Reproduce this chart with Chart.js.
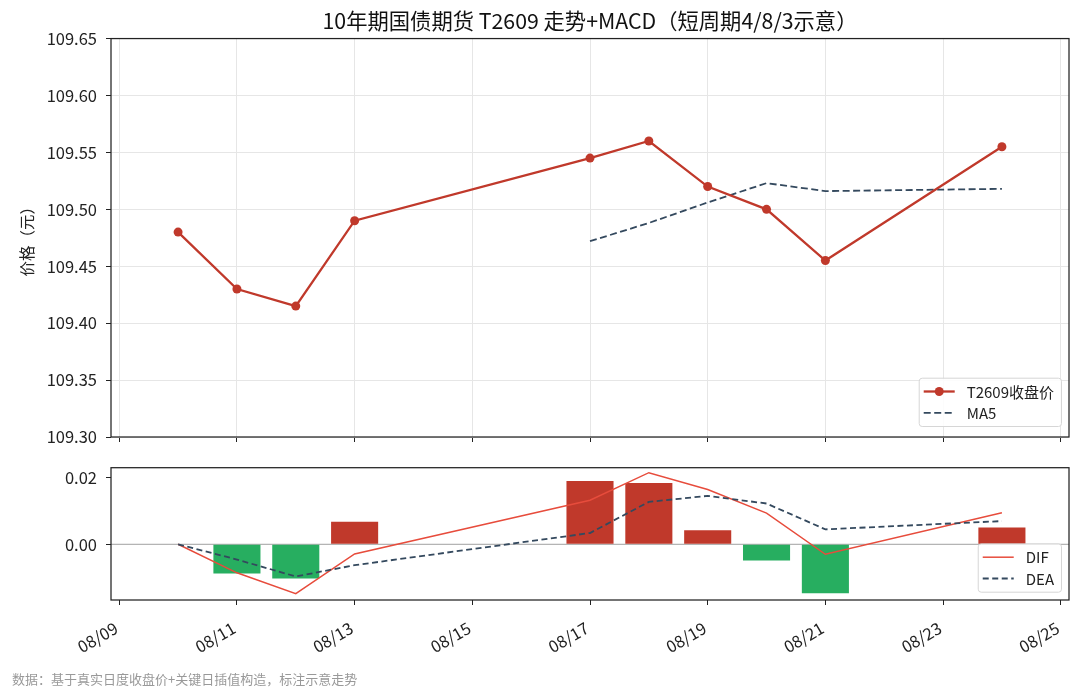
<!DOCTYPE html>
<html>
<head>
<meta charset="utf-8">
<script src="https://cdn.jsdelivr.net/npm/chart.js@4.4.1/dist/chart.umd.min.js"></script>
<style>
  html, body { margin: 0; padding: 0; background: #fff; }
  #wrap { position: relative; width: 1080px; height: 698px; overflow: hidden; }
  canvas { position: absolute; left: 0; }
  #priceChart { top: 0; }
  #macdChart { top: 450px; }
  #note {
    position: absolute; left: 12px; top: 671px;
    font-family: "Noto Sans CJK SC", sans-serif; font-size: 13px; line-height: 16px;
    color: #999; white-space: nowrap;
  }
</style>
</head>
<body>
<div id="wrap">
  <canvas id="priceChart" width="1080" height="450"></canvas>
  <canvas id="macdChart" width="1080" height="248"></canvas>
  <div id="note">数据：基于真实日度收盘价+关键日插值构造，标注示意走势</div>
</div>
<script>
const FONT = '"Noto Sans CJK SC", "Noto Sans", sans-serif';

// trading days in August
const days = [10, 11, 12, 13, 17, 18, 19, 20, 21, 24];
const closePrice = [109.48, 109.43, 109.415, 109.49, 109.545, 109.56, 109.52, 109.50, 109.455, 109.555];
const ma5 = [null, null, null, null, 109.472, 109.488, 109.506, 109.523, 109.516, 109.518];
const dif = [0, -0.0086, -0.0149, -0.0029, 0.0133, 0.0216, 0.0165, 0.0094, -0.0030, 0.0095];
const dea = [0, -0.0046, -0.0097, -0.0063, 0.0034, 0.0128, 0.0146, 0.0123, 0.0045, 0.0070];
const macdHist = [0, -0.0088, -0.0103, 0.0068, 0.0191, 0.0185, 0.0042, -0.0049, -0.0148, 0.0051];

const dateTicks = [9, 11, 13, 15, 17, 19, 21, 23, 25];
const dateLabels = ['08/09', '08/11', '08/13', '08/15', '08/17', '08/19', '08/21', '08/23', '08/25'];
const priceTicks = [109.30, 109.35, 109.40, 109.45, 109.50, 109.55, 109.60, 109.65];
const macdTicks = [0.00, 0.02];

const pts = (vals) => days.map((d, i) => ({ x: d, y: vals[i] }));

// keep the plot box where it is, whatever the tick labels want
const fixY = (s) => { s.width = 111; s.paddingTop = 0; s.paddingBottom = 0; };
const fixX = (h) => (s) => { s.height = h; s.paddingLeft = 0; s.paddingRight = 0; };

// matplotlib style box around the axes + legend drawn inside the plot
const frameAndLegend = {
  id: 'frameAndLegend',
  beforeDatasetsDraw(chart, args, opts) {
    if (!opts.zeroLine) return;
    const { ctx, chartArea: a } = chart;
    const y0 = chart.scales.y.getPixelForValue(0);
    ctx.save();
    ctx.strokeStyle = '#a0a0a0';
    ctx.lineWidth = 1;
    ctx.beginPath();
    ctx.moveTo(a.left, y0);
    ctx.lineTo(a.right, y0);
    ctx.stroke();
    ctx.restore();
  },
  afterDatasetsDraw(chart, args, opts) {
    const { ctx, chartArea: a } = chart;
    ctx.save();
    ctx.strokeStyle = '#222';
    ctx.lineWidth = 1.25;
    ctx.strokeRect(a.left, a.top, a.right - a.left, a.bottom - a.top);

    const items = chart.data.datasets.filter(d => d.type !== 'bar');
    ctx.font = '15px ' + FONT;
    const textW = Math.max(...items.map(d => ctx.measureText(d.label).width));
    const rowH = 21.3;
    const w = 5 + 31 + 12 + textW + 7;
    const h = 27 + rowH * (items.length - 1);
    const right = a.right - opts.right;
    const bottom = a.bottom - opts.bottom;
    const left = right - w;
    const top = bottom - h;

    ctx.beginPath();
    ctx.roundRect(left + 0.5, top + 0.5, w, h, 3);
    ctx.fillStyle = 'rgba(255,255,255,0.85)';
    ctx.fill();
    ctx.strokeStyle = '#d6d6d6';
    ctx.lineWidth = 1;
    ctx.stroke();

    items.forEach((d, i) => {
      const y = top + 13.8 + i * rowH;
      ctx.strokeStyle = d.borderColor;
      ctx.lineWidth = d.borderWidth;
      ctx.setLineDash(d.borderDash || []);
      ctx.beginPath();
      ctx.moveTo(left + 5, y);
      ctx.lineTo(left + 36, y);
      ctx.stroke();
      ctx.setLineDash([]);
      if (d.pointRadius) {
        ctx.fillStyle = d.pointBackgroundColor;
        ctx.beginPath();
        ctx.arc(left + 20.5, y, d.pointRadius, 0, Math.PI * 2);
        ctx.fill();
      }
      ctx.fillStyle = '#222';
      ctx.textBaseline = 'middle';
      ctx.textAlign = 'left';
      ctx.fillText(d.label, left + 48, y + 0.5);
    });
    ctx.restore();
  }
};

const tickFont = { family: FONT, size: 16.5 };

new Chart(document.getElementById('priceChart'), {
  type: 'line',
  data: {
    datasets: [
      {
        label: 'T2609收盘价',
        data: pts(closePrice),
        borderColor: '#c0392b',
        borderWidth: 2.3,
        pointRadius: 4.5,
        pointBackgroundColor: '#c0392b',
        pointBorderWidth: 0,
        tension: 0,
        order: 0
      },
      {
        label: 'MA5',
        data: pts(ma5),
        borderColor: '#34495e',
        borderWidth: 1.8,
        borderDash: [7, 3.5],
        pointRadius: 0,
        tension: 0,
        order: 1
      }
    ]
  },
  options: {
    responsive: false,
    animation: false,
    layout: { padding: { left: 0, right: 11, top: 0, bottom: 0 } },
    plugins: {
      legend: { display: false },
      tooltip: { enabled: false },
      title: {
        display: true,
        fullSize: false,
        text: '10年期国债期货 T2609 走势+MACD（短周期4/8/3示意）',
        color: '#111',
        font: { family: FONT, size: 21.3, weight: 'normal' },
        padding: { top: 8, bottom: 5 }
      },
      frameAndLegend: { right: 8, bottom: 11 }
    },
    scales: {
      x: {
        type: 'linear',
        min: 8.86,
        max: 25.14,
        offset: false,
        afterBuildTicks: (s) => { s.ticks = dateTicks.map(v => ({ value: v })); },
        afterFit: fixX(13),
        ticks: { display: false },
        grid: { color: '#e6e6e6', tickColor: '#222', tickLength: 5, lineWidth: 1, offset: false },
        border: { display: false }
      },
      y: {
        min: 109.30,
        max: 109.65,
        afterBuildTicks: (s) => { s.ticks = priceTicks.map(v => ({ value: v })); },
        afterFit: fixY,
        ticks: { callback: (v) => v.toFixed(2), font: tickFont, color: '#222', padding: 9 },
        grid: { color: '#e6e6e6', tickColor: '#222', tickLength: 5, lineWidth: 1 },
        border: { display: false },
        title: {
          display: true,
          text: '价格（元）',
          color: '#222',
          font: { family: FONT, size: 15.5 },
          padding: { top: 18, bottom: 0 }
        }
      }
    }
  },
  plugins: [frameAndLegend]
});

new Chart(document.getElementById('macdChart'), {
  type: 'bar',
  data: {
    datasets: [
      {
        type: 'line',
        label: 'DIF',
        data: pts(dif),
        borderColor: '#e74c3c',
        borderWidth: 1.5,
        pointRadius: 0,
        tension: 0,
        order: 1
      },
      {
        type: 'line',
        label: 'DEA',
        data: pts(dea),
        borderColor: '#34495e',
        borderWidth: 1.8,
        borderDash: [6, 3.5],
        pointRadius: 0,
        tension: 0,
        order: 0
      },
      {
        type: 'bar',
        label: 'MACD',
        data: pts(macdHist),
        backgroundColor: (c) => (c.raw && c.raw.y >= 0 ? '#c0392b' : '#27ae60'),
        categoryPercentage: 0.8,
        barPercentage: 1,
        order: 2
      }
    ]
  },
  options: {
    responsive: false,
    animation: false,
    layout: { padding: { left: 0, right: 11, top: 17.7, bottom: 0 } },
    plugins: {
      legend: { display: false },
      tooltip: { enabled: false },
      frameAndLegend: { right: 8, bottom: 8.3, zeroLine: true }
    },
    scales: {
      x: {
        type: 'linear',
        min: 8.86,
        max: 25.14,
        offset: false,
        afterBuildTicks: (s) => { s.ticks = dateTicks.map(v => ({ value: v })); },
        afterFit: fixX(98),
        ticks: {
          callback: (v) => dateLabels[dateTicks.indexOf(v)],
          minRotation: 30,
          maxRotation: 30,
          font: tickFont,
          color: '#222',
          padding: 13,
          labelOffset: -3
        },
        grid: { drawOnChartArea: false, tickColor: '#222', tickLength: 5, offset: false },
        border: { display: false }
      },
      y: {
        min: -0.0168,
        max: 0.0231,
        afterBuildTicks: (s) => { s.ticks = macdTicks.map(v => ({ value: v })); },
        afterFit: fixY,
        ticks: { callback: (v) => v.toFixed(2), font: tickFont, color: '#222', padding: 9 },
        grid: { drawOnChartArea: false, tickColor: '#222', tickLength: 5 },
        border: { display: false }
      }
    }
  },
  plugins: [frameAndLegend]
});
</script>
</body>
</html>
